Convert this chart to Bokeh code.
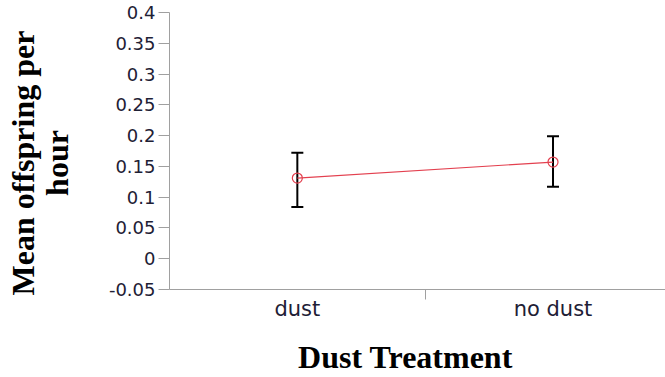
from bokeh.plotting import figure
from bokeh.models import ColumnDataSource, Whisker, TeeHead, FixedTicker, Range1d, CustomJSTickFormatter
from bokeh.embed import file_html
from bokeh.resources import INLINE

categories = ["dust", "no dust"]
means = [0.131, 0.157]
upper = [0.172, 0.199]
lower = [0.084, 0.117]
y_ticks = [-0.05, 0, 0.05, 0.1, 0.15, 0.2, 0.25, 0.3, 0.35, 0.4]
x_title = "Dust Treatment"
y_title_lines = ["Mean offspring per", "hour"]

xs = [i + 0.5 for i in range(len(categories))]
src = ColumnDataSource(dict(x=xs, m=means, up=upper, lo=lower, cat=categories))

p = figure(width=665, height=377, output_backend="svg", toolbar_location=None,
           x_range=Range1d(0, 1.94), y_range=Range1d(-0.05, 0.4),
           min_border_left=169, min_border_right=0, min_border_top=12, min_border_bottom=87)
p.outline_line_color = None
p.xgrid.visible = False
p.ygrid.visible = False
p.background_fill_color = "white"
p.border_fill_color = "white"

p.line("x", "m", source=src, line_color="#e3404f", line_width=1.2)
p.scatter("x", "m", source=src, size=10, marker="circle", fill_color=None,
          line_color="#e3404f", line_width=1.2)
w = Whisker(base="x", upper="up", lower="lo", source=src, line_color="black", line_width=2,
            upper_head=TeeHead(size=12, line_width=2, line_color="black"),
            lower_head=TeeHead(size=12, line_width=2, line_color="black"))
p.add_layout(w)

axis_col = "#a0a0a0"
lab_col = "#1e2035"
pad = "   "  # nudges the centred titles toward the reference position

xa = p.xaxis[0]
xa.ticker = FixedTicker(ticks=xs, minor_ticks=[1])
xa.major_label_overrides = {x: c for x, c in zip(xs, categories)}
xa.major_tick_line_color = None
xa.major_tick_out = 0
xa.major_tick_in = 0
xa.minor_tick_line_color = axis_col
xa.minor_tick_out = 10
xa.minor_tick_in = 0
xa.axis_line_color = axis_col
xa.major_label_text_font = "DejaVu Sans"
xa.major_label_text_font_size = "21px"
xa.major_label_text_color = lab_col
xa.major_label_standoff = -3
xa.axis_label = x_title + pad
xa.axis_label_text_font = "Liberation Serif"
xa.axis_label_text_font_style = "bold"
xa.axis_label_text_font_size = "32px"
xa.axis_label_text_color = "black"
xa.axis_label_standoff = 15

ya = p.yaxis[0]
ya.ticker = FixedTicker(ticks=y_ticks)
ya.formatter = CustomJSTickFormatter(code="return String(Math.round(tick*100)/100);")
ya.major_tick_line_color = axis_col
ya.major_tick_out = 11
ya.major_tick_in = 0
ya.minor_tick_line_color = None
ya.axis_line_color = axis_col
ya.major_label_text_font = "DejaVu Sans"
ya.major_label_text_font_size = "18px"
ya.major_label_text_color = lab_col
ya.major_label_standoff = 3
ya.axis_label = "\n".join(t + pad for t in y_title_lines)
ya.axis_label_text_font = "Liberation Serif"
ya.axis_label_text_font_style = "bold"
ya.axis_label_text_font_size = "32px"
ya.axis_label_text_line_height = 0.95
ya.axis_label_text_color = "black"
ya.axis_label_standoff = 31

open("out.html", "w").write(file_html(p, INLINE))
